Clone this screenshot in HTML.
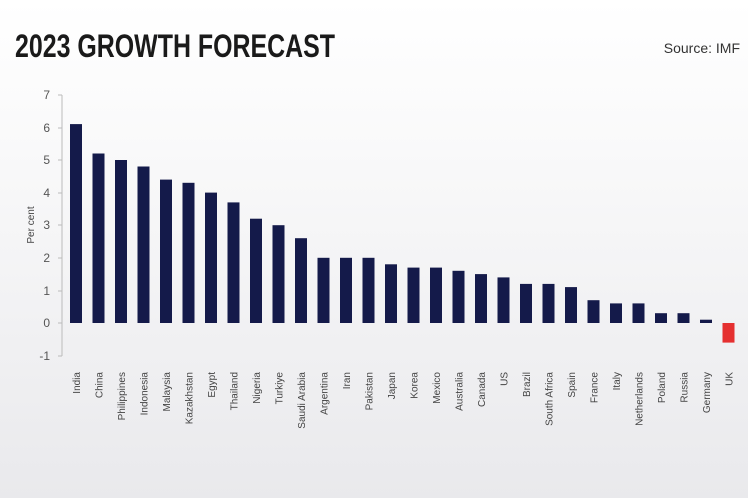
<!DOCTYPE html>
<html><head><meta charset="utf-8"><style>
html,body{margin:0;padding:0}
body{width:748px;height:498px;overflow:hidden;background:linear-gradient(#ffffff 0%,#f7f7f8 40%,#e9e9ec 100%);font-family:"Liberation Sans",sans-serif}
</style></head><body>
<svg width="748" height="498" xmlns="http://www.w3.org/2000/svg" style="position:absolute;left:0;top:0">
<text x="15" y="57" font-family="Liberation Sans Narrow,Liberation Sans" font-weight="bold" font-size="32" fill="#1a1a1a" textLength="320" lengthAdjust="spacingAndGlyphs">2023 GROWTH FORECAST</text>
<text x="740" y="53" text-anchor="end" font-size="14" fill="#333">Source: IMF</text>
<line x1="62" y1="95" x2="62" y2="356" stroke="#bbb" stroke-width="1"/>
<g font-size="12" fill="#555" text-anchor="end">
<text x="50" y="99">7</text><text x="50" y="132">6</text><text x="50" y="164">5</text><text x="50" y="197">4</text><text x="50" y="229">3</text><text x="50" y="262">2</text><text x="50" y="295">1</text><text x="50" y="327">0</text><text x="50" y="360">-1</text>
</g>
<g stroke="#bbb"><line x1="58" y1="95" x2="62" y2="95"/><line x1="58" y1="128" x2="62" y2="128"/><line x1="58" y1="160" x2="62" y2="160"/><line x1="58" y1="193" x2="62" y2="193"/><line x1="58" y1="225" x2="62" y2="225"/><line x1="58" y1="258" x2="62" y2="258"/><line x1="58" y1="291" x2="62" y2="291"/><line x1="58" y1="323" x2="62" y2="323"/><line x1="58" y1="356" x2="62" y2="356"/></g>
<text transform="translate(34,225) rotate(-90)" text-anchor="middle" font-size="10" fill="#444">Per cent</text>
<g fill="#141a4a">
<rect x="70" y="124.1" width="12" height="198.9"/>
<rect x="92.5" y="153.5" width="12" height="169.5"/>
<rect x="115" y="160" width="12" height="163"/>
<rect x="137.5" y="166.5" width="12" height="156.5"/>
<rect x="160" y="179.6" width="12" height="143.4"/>
<rect x="182.5" y="182.8" width="12" height="140.2"/>
<rect x="205" y="192.6" width="12" height="130.4"/>
<rect x="227.5" y="202.4" width="12" height="120.6"/>
<rect x="250" y="218.7" width="12" height="104.3"/>
<rect x="272.5" y="225.2" width="12" height="97.8"/>
<rect x="295" y="238.2" width="12" height="84.8"/>
<rect x="317.5" y="257.8" width="12" height="65.2"/>
<rect x="340" y="257.8" width="12" height="65.2"/>
<rect x="362.5" y="257.8" width="12" height="65.2"/>
<rect x="385" y="264.3" width="12" height="58.7"/>
<rect x="407.5" y="267.6" width="12" height="55.4"/>
<rect x="430" y="267.6" width="12" height="55.4"/>
<rect x="452.5" y="270.8" width="12" height="52.2"/>
<rect x="475" y="274.1" width="12" height="48.9"/>
<rect x="497.5" y="277.4" width="12" height="45.6"/>
<rect x="520" y="283.9" width="12" height="39.1"/>
<rect x="542.5" y="283.9" width="12" height="39.1"/>
<rect x="565" y="287.1" width="12" height="35.9"/>
<rect x="587.5" y="300.2" width="12" height="22.8"/>
<rect x="610" y="303.4" width="12" height="19.6"/>
<rect x="632.5" y="303.4" width="12" height="19.6"/>
<rect x="655" y="313.2" width="12" height="9.8"/>
<rect x="677.5" y="313.2" width="12" height="9.8"/>
<rect x="700" y="319.7" width="12" height="3.3"/>
</g>
<rect x="722.5" y="323" width="12" height="19.6" fill="#e53030"/>
<g font-size="10" fill="#444" text-anchor="end">
<text transform="translate(80,372) rotate(-90)">India</text>
<text transform="translate(102.5,372) rotate(-90)">China</text>
<text transform="translate(125,372) rotate(-90)">Philippines</text>
<text transform="translate(147.5,372) rotate(-90)">Indonesia</text>
<text transform="translate(170,372) rotate(-90)">Malaysia</text>
<text transform="translate(192.5,372) rotate(-90)">Kazakhstan</text>
<text transform="translate(215,372) rotate(-90)">Egypt</text>
<text transform="translate(237.5,372) rotate(-90)">Thailand</text>
<text transform="translate(260,372) rotate(-90)">Nigeria</text>
<text transform="translate(282.5,372) rotate(-90)">Turkiye</text>
<text transform="translate(305,372) rotate(-90)">Saudi Arabia</text>
<text transform="translate(327.5,372) rotate(-90)">Argentina</text>
<text transform="translate(350,372) rotate(-90)">Iran</text>
<text transform="translate(372.5,372) rotate(-90)">Pakistan</text>
<text transform="translate(395,372) rotate(-90)">Japan</text>
<text transform="translate(417.5,372) rotate(-90)">Korea</text>
<text transform="translate(440,372) rotate(-90)">Mexico</text>
<text transform="translate(462.5,372) rotate(-90)">Australia</text>
<text transform="translate(485,372) rotate(-90)">Canada</text>
<text transform="translate(507.5,372) rotate(-90)">US</text>
<text transform="translate(530,372) rotate(-90)">Brazil</text>
<text transform="translate(552.5,372) rotate(-90)">South Africa</text>
<text transform="translate(575,372) rotate(-90)">Spain</text>
<text transform="translate(597.5,372) rotate(-90)">France</text>
<text transform="translate(620,372) rotate(-90)">Italy</text>
<text transform="translate(642.5,372) rotate(-90)">Netherlands</text>
<text transform="translate(665,372) rotate(-90)">Poland</text>
<text transform="translate(687.5,372) rotate(-90)">Russia</text>
<text transform="translate(710,372) rotate(-90)">Germany</text>
<text transform="translate(732.5,372) rotate(-90)">UK</text>
</g>
</svg>
</body></html>
